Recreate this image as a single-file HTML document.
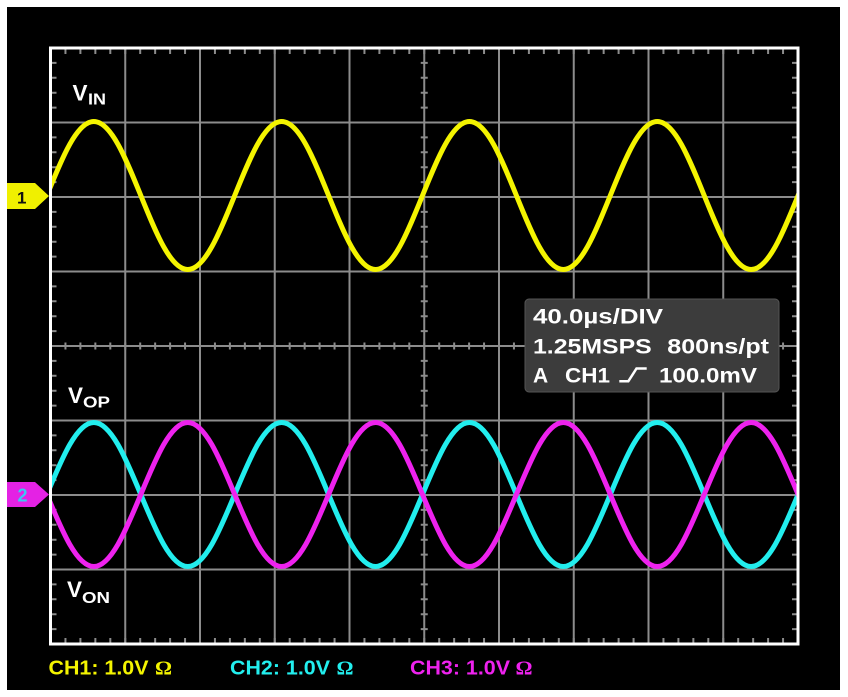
<!DOCTYPE html>
<html>
<head>
<meta charset="utf-8">
<style>
html,body{margin:0;padding:0;background:#fff;}
svg{display:block;}
</style>
</head>
<body>
<svg width="848" height="697" viewBox="0 0 848 697" xmlns="http://www.w3.org/2000/svg">
  <rect x="0" y="0" width="848" height="697" fill="#ffffff"/>
  <rect x="7" y="7" width="833" height="683" fill="#000000"/>
  <defs>
    <clipPath id="plot"><rect x="52" y="49.5" width="744.5" height="593"/></clipPath>
  </defs>

  <!-- grid -->
  <g stroke="#8c8c8c" stroke-width="2" fill="none">
    <line x1="125.25" y1="48" x2="125.25" y2="644"/>
    <line x1="200" y1="48" x2="200" y2="644"/>
    <line x1="274.75" y1="48" x2="274.75" y2="644"/>
    <line x1="349.5" y1="48" x2="349.5" y2="644"/>
    <line x1="424.25" y1="48" x2="424.25" y2="644"/>
    <line x1="499" y1="48" x2="499" y2="644"/>
    <line x1="573.75" y1="48" x2="573.75" y2="644"/>
    <line x1="648.5" y1="48" x2="648.5" y2="644"/>
    <line x1="723.25" y1="48" x2="723.25" y2="644"/>
    <line x1="50.5" y1="122.5" x2="798" y2="122.5"/>
    <line x1="50.5" y1="197" x2="798" y2="197"/>
    <line x1="50.5" y1="271.5" x2="798" y2="271.5"/>
    <line x1="50.5" y1="346" x2="798" y2="346"/>
    <line x1="50.5" y1="420.5" x2="798" y2="420.5"/>
    <line x1="50.5" y1="495" x2="798" y2="495"/>
    <line x1="50.5" y1="569.5" x2="798" y2="569.5"/>
  </g>
  <!-- minor ticks -->
  <g stroke="#8c8c8c" fill="none">
    <line x1="50.5" y1="51" x2="798" y2="51" stroke-width="6" stroke-dasharray="2 12.95" stroke-dashoffset="1"/>
    <line x1="50.5" y1="641" x2="798" y2="641" stroke-width="6" stroke-dasharray="2 12.95" stroke-dashoffset="1"/>
    <line x1="50.5" y1="346" x2="798" y2="346" stroke-width="7" stroke-dasharray="2 12.95" stroke-dashoffset="1"/>
    <line x1="53.5" y1="48" x2="53.5" y2="644" stroke-width="6" stroke-dasharray="2 12.9" stroke-dashoffset="1"/>
    <line x1="795" y1="48" x2="795" y2="644" stroke-width="6" stroke-dasharray="2 12.9" stroke-dashoffset="1"/>
    <line x1="424.25" y1="48" x2="424.25" y2="644" stroke-width="7" stroke-dasharray="2 12.9" stroke-dashoffset="1"/>
  </g>

  <!-- traces -->
  <g clip-path="url(#plot)" fill="none" stroke-width="5" stroke-linejoin="round" stroke-linecap="round">
    <path stroke="#f4f400" d="M46.9,195.5
      c15.31,-37.91 29.96,-74 46.95,-74 c16.99,0 31.64,36.09 46.95,74 c15.31,37.91 29.96,74 46.95,74 c16.99,0 31.64,-36.09 46.95,-74
      c15.31,-37.91 29.96,-74 46.95,-74 c16.99,0 31.64,36.09 46.95,74 c15.31,37.91 29.96,74 46.95,74 c16.99,0 31.64,-36.09 46.95,-74
      c15.31,-37.91 29.96,-74 46.95,-74 c16.99,0 31.64,36.09 46.95,74 c15.31,37.91 29.96,74 46.95,74 c16.99,0 31.64,-36.09 46.95,-74
      c15.31,-37.91 29.96,-74 46.95,-74 c16.99,0 31.64,36.09 46.95,74 c15.31,37.91 29.96,74 46.95,74 c16.99,0 31.64,-36.09 46.95,-74
      c15.31,-37.91 29.96,-74 46.95,-74"/>
    <path stroke="#22eeee" d="M46.9,494.5
      c15.31,-36.89 29.96,-72 46.95,-72 c16.99,0 31.64,35.11 46.95,72 c15.31,36.89 29.96,72 46.95,72 c16.99,0 31.64,-35.11 46.95,-72
      c15.31,-36.89 29.96,-72 46.95,-72 c16.99,0 31.64,35.11 46.95,72 c15.31,36.89 29.96,72 46.95,72 c16.99,0 31.64,-35.11 46.95,-72
      c15.31,-36.89 29.96,-72 46.95,-72 c16.99,0 31.64,35.11 46.95,72 c15.31,36.89 29.96,72 46.95,72 c16.99,0 31.64,-35.11 46.95,-72
      c15.31,-36.89 29.96,-72 46.95,-72 c16.99,0 31.64,35.11 46.95,72 c15.31,36.89 29.96,72 46.95,72 c16.99,0 31.64,-35.11 46.95,-72
      c15.31,-36.89 29.96,-72 46.95,-72"/>
    <path stroke="#ee22ee" d="M46.9,494.5
      c15.31,36.89 29.96,72 46.95,72 c16.99,0 31.64,-35.11 46.95,-72 c15.31,-36.89 29.96,-72 46.95,-72 c16.99,0 31.64,35.11 46.95,72
      c15.31,36.89 29.96,72 46.95,72 c16.99,0 31.64,-35.11 46.95,-72 c15.31,-36.89 29.96,-72 46.95,-72 c16.99,0 31.64,35.11 46.95,72
      c15.31,36.89 29.96,72 46.95,72 c16.99,0 31.64,-35.11 46.95,-72 c15.31,-36.89 29.96,-72 46.95,-72 c16.99,0 31.64,35.11 46.95,72
      c15.31,36.89 29.96,72 46.95,72 c16.99,0 31.64,-35.11 46.95,-72 c15.31,-36.89 29.96,-72 46.95,-72 c16.99,0 31.64,35.11 46.95,72
      c15.31,36.89 29.96,72 46.95,72"/>
  </g>

  <!-- frame -->
  <rect x="50.5" y="48" width="747.5" height="596" fill="none" stroke="#ffffff" stroke-width="3"/>

  <!-- channel markers -->
  <polygon points="7,183 35,183 49,196 35,209 7,209" fill="#f0f000"/>
  <text x="17" y="203.5" font-family="Liberation Sans, sans-serif" font-weight="bold" font-size="17" fill="#111">1</text>
  <polygon points="7,482 35,482 49,494.5 35,507 7,507" fill="#e422e4"/>
  <text x="17.5" y="501.5" font-family="Liberation Sans, sans-serif" font-weight="bold" font-size="18" fill="#3fc6f2">2</text>

  <!-- signal labels -->
  <g font-family="Liberation Sans, sans-serif" font-weight="bold" fill="#ffffff">
    <text x="72.5" y="100.5" font-size="22" textLength="15" lengthAdjust="spacingAndGlyphs">V</text>
    <text x="88" y="104.5" font-size="16" textLength="18" lengthAdjust="spacingAndGlyphs">IN</text>
    <text x="68" y="403" font-size="22" textLength="15" lengthAdjust="spacingAndGlyphs">V</text>
    <text x="83" y="407.5" font-size="16" textLength="27" lengthAdjust="spacingAndGlyphs">OP</text>
    <text x="67" y="597" font-size="22" textLength="15" lengthAdjust="spacingAndGlyphs">V</text>
    <text x="82" y="603" font-size="16" textLength="28" lengthAdjust="spacingAndGlyphs">ON</text>
  </g>

  <!-- info box -->
  <rect x="525" y="299" width="254" height="93" rx="4" ry="4" fill="#3c3c3c" stroke="#555555" stroke-width="1"/>
  <g font-family="Liberation Sans, sans-serif" font-weight="bold" font-size="21" fill="#ffffff">
    <text x="533" y="323.3" textLength="130" lengthAdjust="spacingAndGlyphs">40.0µs/DIV</text>
    <text x="533" y="353.3" textLength="118.7" lengthAdjust="spacingAndGlyphs">1.25MSPS</text>
    <text x="667.3" y="353.3" textLength="101.7" lengthAdjust="spacingAndGlyphs">800ns/pt</text>
    <text x="533" y="382.7">A</text>
    <text x="565" y="382.7" textLength="45" lengthAdjust="spacingAndGlyphs">CH1</text>
    <text x="659" y="382.7" textLength="98" lengthAdjust="spacingAndGlyphs">100.0mV</text>
  </g>
  <path d="M619.3,381.3 L628.3,381.3 L636.5,368.5 L646.7,368.5" fill="none" stroke="#ffffff" stroke-width="2.5"/>

  <!-- bottom channel settings -->
  <g font-family="Liberation Sans, sans-serif" font-weight="bold" font-size="20">
    <text x="48.5" y="674.3" fill="#f4f400" textLength="100" lengthAdjust="spacingAndGlyphs">CH1: 1.0V</text>
    <text x="155" y="674.3" fill="#f4f400" font-family="Liberation Serif, serif" textLength="17" lengthAdjust="spacingAndGlyphs">Ω</text>
    <text x="230" y="674.3" fill="#22eeee" textLength="100" lengthAdjust="spacingAndGlyphs">CH2: 1.0V</text>
    <text x="336.5" y="674.3" fill="#22eeee" font-family="Liberation Serif, serif" textLength="17" lengthAdjust="spacingAndGlyphs">Ω</text>
    <text x="410" y="674.3" fill="#ee22ee" textLength="100" lengthAdjust="spacingAndGlyphs">CH3: 1.0V</text>
    <text x="515.5" y="674.3" fill="#ee22ee" font-family="Liberation Serif, serif" textLength="17" lengthAdjust="spacingAndGlyphs">Ω</text>
  </g>
</svg>
</body>
</html>
